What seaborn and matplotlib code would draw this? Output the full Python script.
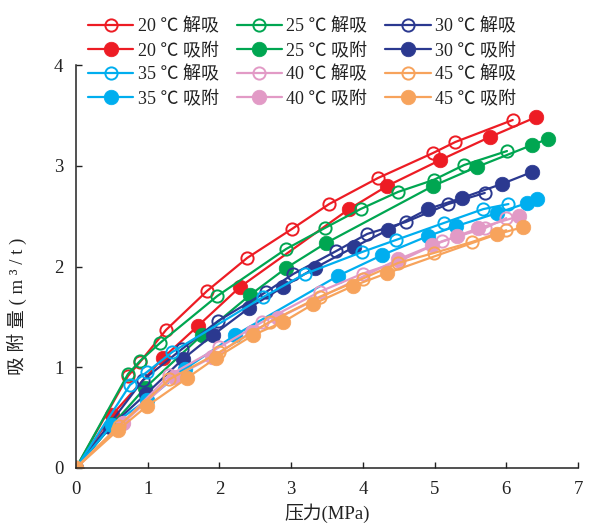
import matplotlib
matplotlib.use("Agg")
import matplotlib.pyplot as plt
import seaborn as sns
import pandas as pd

sns.set_theme(style="ticks")
plt.rcParams['font.family'] = ['Liberation Serif', 'Noto Sans CJK SC']
plt.rcParams['axes.unicode_minus'] = False

temps = ["20", "25", "30", "35", "40", "45"]
colors = ["#ed1c24", "#00a651", "#2b3990", "#00aeef", "#e29ac6", "#f7a35c"]

# desorption (解吸) series
p20_de = [0, 0.725, 0.893, 1.255, 1.827, 2.385, 3.01, 3.53, 4.21, 4.98, 5.29, 6.09]
v20_de = [0, 0.913, 1.052, 1.37, 1.757, 2.084, 2.372, 2.62, 2.878, 3.127, 3.236, 3.454]
p25_de = [0, 0.725, 0.893, 1.17, 1.97, 2.93, 3.47, 3.97, 4.49, 4.99, 5.41, 6.01]
v25_de = [0, 0.933, 1.062, 1.24, 1.707, 2.174, 2.382, 2.571, 2.74, 2.86, 3.007, 3.146]
p30_de = [0, 0.934, 1.478, 1.98, 2.65, 3.03, 3.63, 4.06, 4.60, 5.19, 5.70]
v30_de = [0, 0.873, 1.181, 1.459, 1.747, 1.926, 2.154, 2.323, 2.442, 2.62, 2.73]
p35_de = [0, 0.753, 0.99, 1.34, 2.61, 3.19, 3.99, 4.46, 5.13, 5.68, 6.03]
v35_de = [0, 0.824, 0.953, 1.15, 1.697, 1.926, 2.144, 2.263, 2.432, 2.57, 2.62]
p40_de = [0, 0.65, 1.3, 2.0, 2.6, 3.4, 4.0, 4.5, 5.1, 5.7, 6.0]
v40_de = [0, 0.45, 0.92, 1.2, 1.45, 1.75, 1.93, 2.05, 2.25, 2.38, 2.48]
p45_de = [0, 0.6, 1.3, 2.0, 2.7, 3.4, 4.0, 4.49, 4.99, 5.52, 6.0]
v45_de = [0, 0.42, 0.88, 1.15, 1.45, 1.70, 1.88, 2.035, 2.134, 2.243, 2.36]

# adsorption (吸附) series
p20_ad = [0, 0.502, 1.213, 1.70, 2.287, 3.81, 4.34, 5.08, 5.77, 6.42]
v20_ad = [0, 0.526, 1.092, 1.41, 1.797, 2.571, 2.80, 3.057, 3.285, 3.484]
p25_ad = [0, 0.516, 0.962, 1.757, 2.427, 2.93, 3.487, 4.98, 5.59, 6.36, 6.58]
v25_ad = [0, 0.437, 0.794, 1.32, 1.717, 1.985, 2.233, 2.80, 2.988, 3.206, 3.266]
p30_ad = [0, 0.474, 0.976, 1.492, 1.91, 2.413, 2.887, 3.33, 3.88, 4.35, 4.91, 5.38, 5.94, 6.36]
v30_ad = [0, 0.407, 0.734, 1.082, 1.32, 1.588, 1.797, 1.985, 2.194, 2.362, 2.571, 2.68, 2.82, 2.938]
p35_ad = [0, 0.50, 0.99, 1.52, 2.22, 3.65, 4.27, 4.91, 5.30, 5.87, 6.29, 6.43]
v35_ad = [0, 0.427, 0.675, 0.983, 1.32, 1.906, 2.114, 2.303, 2.40, 2.53, 2.63, 2.67]
p40_ad = [0, 0.66, 1.36, 1.9, 2.45, 2.82, 4.49, 4.97, 5.31, 5.61, 6.18]
v40_ad = [0, 0.45, 0.90, 1.10, 1.35, 1.49, 2.07, 2.21, 2.30, 2.38, 2.50]
p45_ad = [0, 0.586, 0.99, 1.55, 1.95, 2.47, 2.89, 3.31, 3.86, 4.34, 5.87, 6.23]
v45_ad = [0, 0.377, 0.615, 0.893, 1.092, 1.32, 1.45, 1.628, 1.806, 1.935, 2.32, 2.39]

series = [
    ("20", "解吸", p20_de, v20_de), ("20", "吸附", p20_ad, v20_ad),
    ("25", "解吸", p25_de, v25_de), ("25", "吸附", p25_ad, v25_ad),
    ("30", "解吸", p30_de, v30_de), ("30", "吸附", p30_ad, v30_ad),
    ("35", "解吸", p35_de, v35_de), ("35", "吸附", p35_ad, v35_ad),
    ("40", "解吸", p40_de, v40_de), ("40", "吸附", p40_ad, v40_ad),
    ("45", "解吸", p45_de, v45_de), ("45", "吸附", p45_ad, v45_ad),
]

fig = plt.figure(figsize=(6, 5.25), dpi=100)
ax = fig.add_axes([76 / 600, 1 - 468 / 525, (578 - 76) / 600, (468 - 65) / 525])

handles = {}
for t, kind, p, v in series:
    c = colors[temps.index(t)]
    df = pd.DataFrame({"P": p, "V": v})
    filled = kind == "吸附"
    sns.lineplot(data=df, x="P", y="V", ax=ax, sort=False, estimator=None,
                 color=c, lw=1.6, marker="o",
                 markersize=10.5 if filled else 8.8,
                 markerfacecolor=c if filled else "none",
                 markeredgecolor=c, markeredgewidth=1.4 if not filled else 0.5,
                 legend=False)
    handles[(t, kind)] = ax.lines[-1]

ax.set_xlim(0, 7)
ax.set_ylim(0, 4)
ax.set_xticks(range(0, 8))
ax.set_yticks(range(0, 5))
for s in ["top", "right"]:
    ax.spines[s].set_visible(False)
for s in ["left", "bottom"]:
    ax.spines[s].set_linewidth(1.1)
    ax.spines[s].set_color("#222222")
ax.tick_params(direction="in", length=4, width=1.0, labelsize=13.5, colors="#222222", pad=9)
ax.set_xlabel("压力(MPa)", fontsize=13.5, color="#222222")
ax.xaxis.set_label_coords(0.5, -0.088)
ax.set_ylabel("吸 附 量 ( m ³ / t )", fontsize=13.5, color="#222222")
ax.yaxis.set_label_coords(-0.097, 0.4)

order = [("20", "解吸"), ("20", "吸附"), ("35", "解吸"), ("35", "吸附"),
         ("25", "解吸"), ("25", "吸附"), ("40", "解吸"), ("40", "吸附"),
         ("30", "解吸"), ("30", "吸附"), ("45", "解吸"), ("45", "吸附")]
leg = fig.legend([handles[k] for k in order], [f"{k[0]} ℃ {k[1]}" for k in order],
                 loc="upper left", bbox_to_anchor=(88 / 600, 1 - 18 / 525), ncol=3,
                 frameon=False, fontsize=13, handlelength=2.5, handletextpad=0.25,
                 columnspacing=1.0, labelspacing=0.38, borderpad=0, borderaxespad=0)
for txt in leg.get_texts():
    txt.set_color("#222222")

fig.savefig("out.png", dpi=100)
